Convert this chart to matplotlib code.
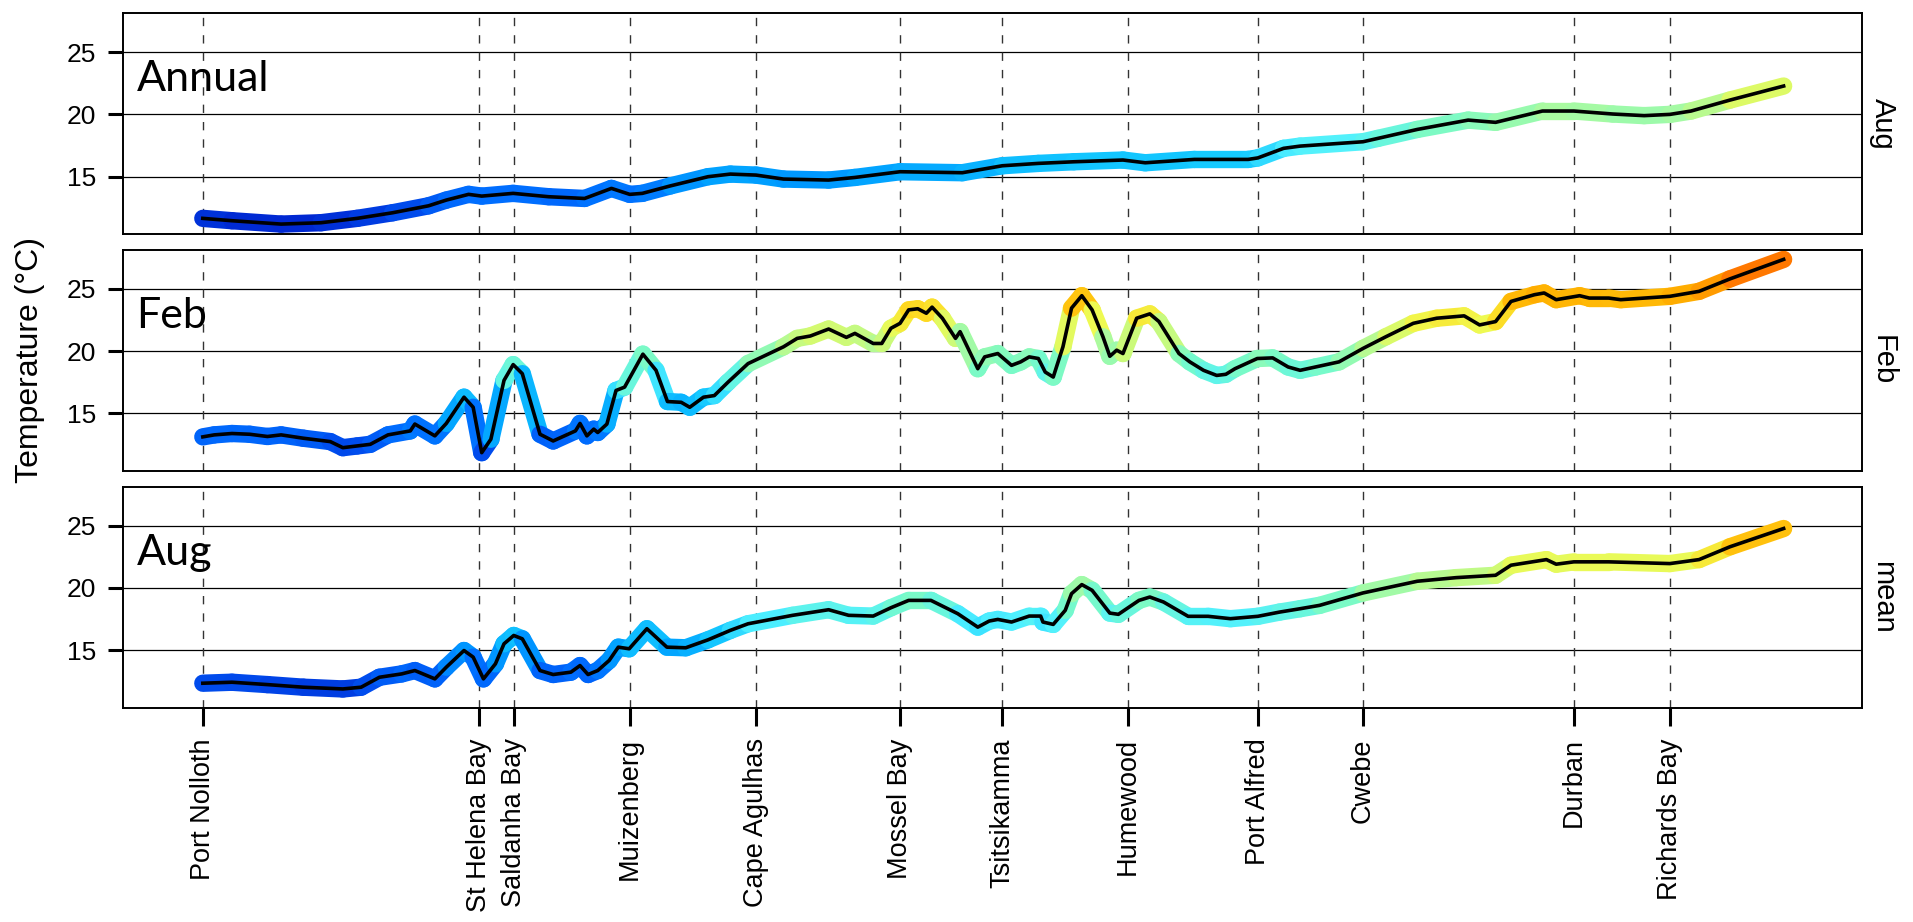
import numpy as np
import matplotlib.pyplot as plt
from matplotlib.collections import LineCollection
from matplotlib.colors import LinearSegmentedColormap, Normalize

# coastal sites, distance along the coast from Port Nolloth (km)
sites = ["Port Nolloth", "St Helena Bay", "Saldanha Bay", "Muizenberg", "Cape Agulhas",
         "Mossel Bay", "Tsitsikamma", "Humewood", "Port Alfred", "Cwebe", "Durban",
         "Richards Bay"]
site_km = [0, 484, 544, 747, 968, 1220, 1399, 1619, 1846, 2030, 2399, 2567]

# (km, temperature)
annual = [(0, 11.64), (51, 11.45), (137, 11.18), (207, 11.29), (270, 11.64), (332, 12.09),
          (395, 12.65), (426, 13.11), (465, 13.57), (488, 13.43), (543, 13.65), (605, 13.38),
          (668, 13.24), (715, 14.05), (747, 13.57), (769, 13.65), (818, 14.25), (884, 14.99),
          (923, 15.2), (968, 15.12), (1016, 14.8), (1095, 14.72), (1141, 14.93), (1220, 15.39),
          (1329, 15.31), (1399, 15.87), (1462, 16.06), (1524, 16.19), (1610, 16.33),
          (1649, 16.11), (1735, 16.38), (1829, 16.38), (1846, 16.5), (1891, 17.27),
          (1920, 17.45), (2030, 17.8), (2056, 18.07), (2125, 18.79), (2214, 19.54),
          (2262, 19.36), (2344, 20.27), (2399, 20.27), (2467, 20.03), (2522, 19.9),
          (2567, 20.0), (2604, 20.27), (2672, 21.15), (2766, 22.28)]

feb = [(0, 13.11), (20, 13.27), (51, 13.38), (82, 13.32), (113, 13.14), (137, 13.27),
       (176, 13.0), (223, 12.73), (245, 12.24), (270, 12.38), (293, 12.51), (324, 13.27),
       (363, 13.59), (371, 14.14), (406, 13.19), (426, 14.19), (457, 16.3), (473, 15.49),
       (488, 11.84), (504, 12.92), (527, 17.65), (543, 18.92), (559, 18.19), (590, 13.32),
       (613, 12.78), (652, 13.59), (660, 14.19), (672, 13.19), (684, 13.73), (691, 13.46),
       (707, 14.14), (723, 16.84), (738, 17.11), (770, 19.76), (793, 18.46), (813, 15.95),
       (837, 15.89), (852, 15.49), (876, 16.3), (895, 16.43), (919, 17.51), (954, 19.0),
       (1016, 20.35), (1040, 21.03), (1063, 21.22), (1095, 21.78), (1126, 21.11),
       (1141, 21.43), (1173, 20.62), (1188, 20.62), (1204, 21.84), (1220, 22.24),
       (1235, 23.32), (1251, 23.41), (1266, 23.05), (1276, 23.54), (1294, 22.65),
       (1317, 21.03), (1325, 21.57), (1356, 18.59), (1368, 19.54), (1391, 19.81),
       (1415, 18.86), (1431, 19.14), (1446, 19.54), (1462, 19.41), (1474, 18.32),
       (1488, 17.92), (1505, 20.35), (1520, 23.46), (1538, 24.46), (1556, 23.32),
       (1575, 21.16), (1587, 19.59), (1599, 20.08), (1610, 19.81), (1634, 22.65),
       (1657, 23.0), (1673, 22.38), (1708, 19.81), (1727, 19.14), (1751, 18.46),
       (1774, 18.05), (1790, 18.14), (1806, 18.59), (1845, 19.41), (1872, 19.46),
       (1899, 18.73), (1920, 18.46), (1947, 18.73), (1988, 19.14), (2030, 20.22),
       (2070, 21.16), (2118, 22.24), (2159, 22.65), (2207, 22.84), (2234, 22.11),
       (2262, 22.38), (2289, 24.0), (2330, 24.54), (2347, 24.68), (2368, 24.14),
       (2409, 24.46), (2426, 24.27), (2460, 24.27), (2481, 24.14), (2567, 24.41),
       (2618, 24.81), (2672, 25.81), (2766, 27.38)]

aug = [(0, 12.34), (51, 12.42), (113, 12.23), (176, 12.02), (245, 11.88), (277, 12.02),
       (309, 12.82), (348, 13.09), (371, 13.36), (406, 12.69), (426, 13.63), (457, 14.97),
       (473, 14.44), (491, 12.69), (512, 13.9), (527, 15.51), (544, 16.18), (559, 15.91),
       (590, 13.36), (613, 13.04), (644, 13.23), (660, 13.76), (674, 13.04), (691, 13.36),
       (711, 14.17), (727, 15.24), (746, 15.11), (777, 16.72), (812, 15.24), (845, 15.19),
       (884, 15.83), (923, 16.59), (954, 17.12), (1032, 17.8), (1095, 18.25), (1130, 17.8),
       (1173, 17.74), (1204, 18.41), (1235, 19.0), (1274, 19.0), (1321, 17.93),
       (1356, 16.85), (1376, 17.34), (1391, 17.47), (1415, 17.26), (1446, 17.74),
       (1466, 17.74), (1470, 17.26), (1488, 17.07), (1509, 18.2), (1520, 19.54),
       (1538, 20.27), (1556, 19.81), (1587, 17.98), (1602, 17.88), (1638, 19.0),
       (1657, 19.27), (1681, 18.87), (1724, 17.72), (1759, 17.72), (1798, 17.53),
       (1846, 17.72), (1884, 18.06), (1920, 18.33), (1954, 18.6), (2030, 19.6),
       (2125, 20.54), (2193, 20.83), (2262, 21.02), (2289, 21.83), (2351, 22.28),
       (2368, 21.91), (2399, 22.1), (2460, 22.1), (2567, 21.96), (2618, 22.28),
       (2672, 23.31), (2766, 24.78)]

panel_labels = ["Annual", "Feb", "Aug"]
strip_labels = ["Aug", "Feb", "mean"]
series = [annual, feb, aug]

# jet-ish palette as it appears in the figure
stop_temps = [11.2, 12.5, 13.5, 15.0, 16.3, 17.5, 19.0, 20.3, 22.3, 23.4, 24.5, 27.4]
stop_cols = ["#0028d2", "#0050f0", "#006eff", "#00a0ff", "#14c8ff", "#50f0ff",
             "#78fac8", "#aafaa0", "#f0fa50", "#ffd71e", "#ffb000", "#ff6400"]
lo, hi = stop_temps[0], stop_temps[-1]
cmap = LinearSegmentedColormap.from_list(
    "sst", [((t - lo) / (hi - lo), c) for t, c in zip(stop_temps, stop_cols)])
norm = Normalize(lo, hi)

plt.rcParams["font.family"] = ["Liberation Sans", "DejaVu Sans"]

fig, axes = plt.subplots(3, 1, sharex=True, sharey=True, figsize=(19.13, 9.22), dpi=100)
fig.subplots_adjust(left=0.0642, right=0.9733, bottom=0.2324, top=0.9856, hspace=0.072)

for ax, data, lab, strip in zip(axes, series, panel_labels, strip_labels):
    km = np.array([d[0] for d in data], dtype=float)
    temp = np.array([d[1] for d in data], dtype=float)

    for y in [15, 20, 25]:
        ax.axhline(y, color="black", lw=0.9, zorder=1)
    for s in site_km:
        ax.axvline(s, color="#333333", lw=1.0, ls=(0, (6, 6.5)), zorder=1)

    pts = np.column_stack([km, temp]).reshape(-1, 1, 2)
    segs = np.concatenate([pts[:-1], pts[1:]], axis=1)
    lc = LineCollection(segs, cmap=cmap, norm=norm, linewidths=12.5,
                        capstyle="round", joinstyle="round", zorder=2)
    lc.set_array((temp[:-1] + temp[1:]) / 2)
    ax.add_collection(lc)
    ax.plot(km, temp, color="black", lw=2.6, zorder=3, solid_joinstyle="round")

    ax.text(-116, 21.85, lab, family="Lato", fontsize=31, va="baseline", ha="left")
    ax.text(1.012, 0.5, strip, transform=ax.transAxes, rotation=270,
            va="center", ha="center", fontsize=21)

    for sp in ax.spines.values():
        sp.set_linewidth(1.4)
    ax.tick_params(axis="y", length=11, width=2.2, pad=8, labelsize=19)
    ax.tick_params(axis="x", length=13, width=2.2, pad=9, labelsize=19.5)

ax = axes[0]
ax.set_xlim(-140, 2903)
ax.set_ylim(10.37, 28.13)
ax.set_yticks([15, 20, 25])
axes[-1].set_xticks(site_km)
axes[-1].set_xticklabels(sites, rotation=90, va="top", ha="center")
for a in axes[:-1]:
    a.tick_params(axis="x", length=0)

fig.text(0.0155, 0.61, "Temperature (°C)", rotation=90, va="center", ha="center",
         fontsize=23)

plt.savefig("out.png", dpi=100)
